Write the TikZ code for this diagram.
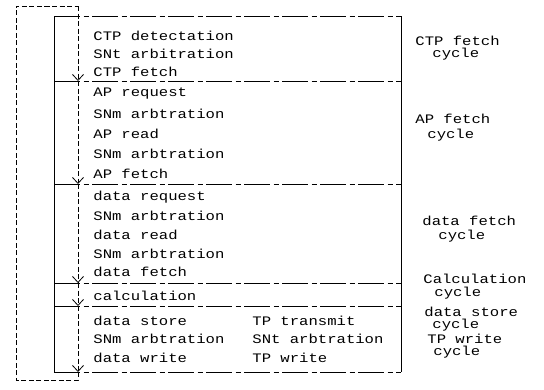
\documentclass[tikz,border=0pt]{standalone}
\usepackage{fontspec}
\newfontfamily\plotfont[FakeStretch=1.2]{Liberation Mono}
\usetikzlibrary{arrows.meta}

\begin{document}
\begin{tikzpicture}[x=1pt,y=-1pt,thick,
  every node/.style={font={\plotfont\fontsize{13}{15}\selectfont},anchor=west,inner sep=0pt},
  divider/.style={dash pattern=on 26pt off 3.5pt on 5pt off 3.5pt},
  flow/.style={dash pattern=on 5pt off 2.5pt},
  flowarrow/.style={flow,-{Straight Barb[length=6pt,width=11pt]}}]
\useasboundingbox (0,0) rectangle (544,389);

% Box: dash-dot dividers between the cycles, solid sides
\foreach \n/\y in {0/16,1/81,2/184,3/283,4/306,5/372} {
  \coordinate (b\n l) at (54,\y);
  \coordinate (b\n r) at (401,\y);
  \draw[divider] (b\n l) -- (b\n r);
}
\draw (b0l) -- (b5l);
\draw (b0r) -- (b5r);

% Flow line with its loop back to the top
\coordinate (f0) at (78,6);
\foreach \n/\y in {1/81,2/184,3/283,4/306,5/372}
  \coordinate (f\n) at (78,\y);
\coordinate (fb) at (78,380);
\coordinate (lb) at (16,380);
\coordinate (lt) at (16,6);
\draw[flow] (f5) -- (fb) -- (lb) -- (lt) -- (f0);
\draw[flowarrow] (f0) -- (f1);
\foreach \a/\b in {1/2,2/3,3/4,4/5}
  \draw[flowarrow] (f\a) -- (f\b);

% CTP fetch cycle
\node (ctpdet) at (93,36) {CTP detectation};
\node (ctparb) at (93,54) {SNt arbitration};
\node (ctpfet) at (93,72) {CTP fetch};

% AP fetch cycle
\node (apreq) at (93,94) {AP request};
\node (aparbA) at (93,114) {SNm arbtration};
\node (apread) at (93,134) {AP read};
\node (aparbB) at (93,154) {SNm arbtration};
\node (apfet) at (93,174) {AP fetch};

% data fetch cycle
\node (dreq) at (93,197) {data request};
\node (darbA) at (93,216) {SNm arbtration};
\node (dread) at (93,235) {data read};
\node (darbB) at (93,254) {SNm arbtration};
\node (dfet) at (93,272) {data fetch};

% calculation cycle
\node (calc) at (93,296) {calculation};

% store / write cycle
\node (dstore) at (93,321) {data store};
\node (sarb) at (93,339) {SNm arbtration};
\node (dwrite) at (93,358) {data write};
\node (tptr) at (252,321) {TP transmit};
\node (tparb) at (252,339) {SNt arbtration};
\node (tpwr) at (252,358) {TP write};

% cycle names on the right
\node (ctpcyA) at (415,41) {CTP fetch};
\node (ctpcyB) at (432,54) {cycle};
\node (apcyA) at (415,119) {AP fetch};
\node (apcyB) at (427,135) {cycle};
\node (dcyA) at (422,221) {data fetch};
\node (dcyB) at (438,236) {cycle};
\node (calcyA) at (423,279) {Calculation};
\node (calcyB) at (434,293) {cycle};
\node (scyA) at (424,312) {data store};
\node (scyB) at (432,325) {cycle};
\node (tcyA) at (427,339) {TP write};
\node (tcyB) at (433,352) {cycle};

\end{tikzpicture}
\end{document}
